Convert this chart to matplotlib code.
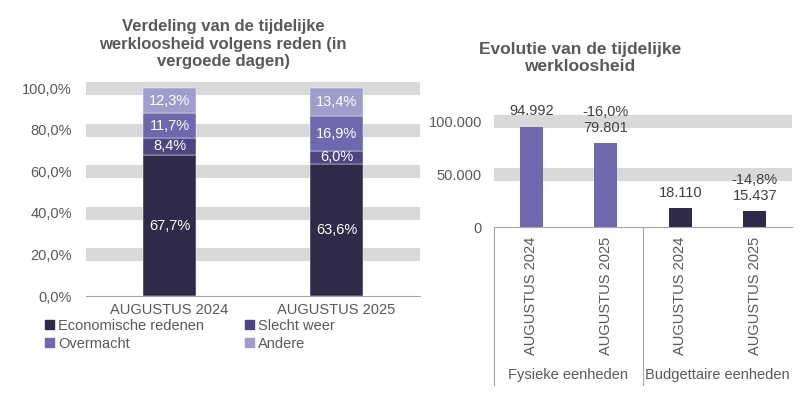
import matplotlib.pyplot as plt
from matplotlib.lines import Line2D
from matplotlib.patches import Patch
import numpy as np

plt.rcParams["font.family"] = ["Liberation Sans", "DejaVu Sans"]

# left chart: share of reasons (in % of paid days)
months = ["AUGUSTUS 2024", "AUGUSTUS 2025"]
reasons = ["Economische redenen", "Slecht weer", "Overmacht", "Andere"]
shares = {
    "Economische redenen": [67.7, 63.6],
    "Slecht weer": [8.4, 6.0],
    "Overmacht": [11.7, 16.9],
    "Andere": [12.3, 13.4],
}
pct_ticks = [0, 20, 40, 60, 80, 100]

# right chart: evolution
groups = ["Fysieke eenheden", "Budgettaire eenheden"]
evo_months = ["AUGUSTUS 2024", "AUGUSTUS 2025", "AUGUSTUS 2024", "AUGUSTUS 2025"]
evo_values = [94992, 79801, 18110, 15437]
evo_labels = ["94.992", "-16,0%\n79.801", "18.110", "-14,8%\n15.437"]
evo_ticks = [0, 50000, 100000]
evo_ticklabels = ["0", "50.000", "100.000"]

COLORS = {"Economische redenen": "#2E2A47", "Slecht weer": "#4D4680",
          "Overmacht": "#6F68AD", "Andere": "#A09CCB"}
GRID = "#D9D9D9"
TXT = "#595959"
W, H = 808, 397

fig = plt.figure(figsize=(W / 100, H / 100), dpi=100)


def box(x0, x1, y_top, y_bot):
    return [x0 / W, 1 - y_bot / H, (x1 - x0) / W, (y_bot - y_top) / H]


# ---- left: stacked percentages
ax = fig.add_axes(box(86, 420, 296 - 1.04 * 208, 296))
x = np.arange(len(months))
bottom = np.zeros(len(months))
for r in reasons:
    vals = np.array(shares[r])
    ax.bar(x, vals, 0.32, bottom=bottom, color=COLORS[r], zorder=2,
           edgecolor="white", linewidth=0.3)
    for xi, b, v in zip(x, bottom, vals):
        ax.text(xi, b + v / 2, f"{v:.1f}%".replace(".", ","), ha="center",
                va="center", color="white", fontsize=10.5, zorder=3)
    bottom += vals
for t in pct_ticks[1:]:
    ax.axhline(t, color=GRID, lw=9.4, zorder=0)
ax.set_xlim(-0.5, 1.5)
ax.set_ylim(0, 104)
ax.set_yticks(pct_ticks)
ax.set_yticklabels([f"{t:.1f}%".replace(".", ",") for t in pct_ticks])
ax.set_xticks(x)
ax.set_xticklabels(months)
ax.tick_params(length=0, labelsize=10.5, labelcolor=TXT)
ax.tick_params(axis="y", pad=10)
ax.tick_params(axis="x", pad=5)
for s in ["top", "right", "left"]:
    ax.spines[s].set_visible(False)
ax.spines["bottom"].set_color("#A6A6A6")

fig.text(223 / W, 1 - 44 / H, "Verdeling van de tijdelijke\nwerkloosheid volgens reden (in\nvergoede dagen)",
         ha="center", va="center", fontsize=12, fontweight="bold", color=TXT,
         linespacing=1.2)

handles = [Patch(color=COLORS[r]) for r in reasons]
order = [0, 2, 1, 3]
fig.legend([handles[i] for i in order], [reasons[i] for i in order],
           ncol=2, loc="upper left", bbox_to_anchor=(45 / W, 1 - 319 / H),
           frameon=False, fontsize=10.5, handlelength=0.6, handleheight=0.6,
           handletextpad=0.3, columnspacing=2.8, labelspacing=0.25,
           labelcolor=TXT, borderaxespad=0, borderpad=0)

# ---- right: evolution
ax2 = fig.add_axes(box(494, 792, 227.5 - 115000 * 53 / 50000, 227.5))
x2 = np.arange(len(evo_values))
bar_cols = [COLORS["Overmacht"]] * 2 + [COLORS["Economische redenen"]] * 2
ax2.bar(x2, evo_values, 0.31, color=bar_cols, zorder=2)
for xi, v, lab in zip(x2, evo_values, evo_labels):
    ax2.annotate(lab, (xi, v), xytext=(0, 6), textcoords="offset points",
                 ha="center", va="bottom", fontsize=10.5, color="#404040",
                 linespacing=1.15)
for t in evo_ticks[1:]:
    ax2.axhline(t, color=GRID, lw=9.4, zorder=0)
ax2.set_xlim(-0.5, 3.5)
ax2.set_ylim(0, 115000)
ax2.set_yticks(evo_ticks)
ax2.set_yticklabels(evo_ticklabels)
ax2.set_xticks(x2)
ax2.set_xticklabels(evo_months, rotation=90, va="top")
ax2.tick_params(length=0, labelsize=10.5, labelcolor=TXT)
ax2.tick_params(axis="y", pad=8.6)
ax2.tick_params(axis="x", pad=7)
for s in ["top", "right", "left"]:
    ax2.spines[s].set_visible(False)
ax2.spines["bottom"].set_color("#A6A6A6")

for xs in (494, 643):
    fig.add_artist(Line2D([xs / W, xs / W], [1 - 227.5 / H, 1 - 385 / H],
                          color="#A6A6A6", lw=0.8))
for gx, g in zip((568, 717), groups):
    fig.text(gx / W, 1 - 375 / H, g, ha="center", va="center",
             fontsize=10.5, color=TXT)

fig.text(580 / W, 1 - 58 / H, "Evolutie van de tijdelijke\nwerkloosheid",
         ha="center", va="center", fontsize=12.5, fontweight="bold", color=TXT,
         linespacing=1.15)

fig.savefig("out.png", dpi=100)
